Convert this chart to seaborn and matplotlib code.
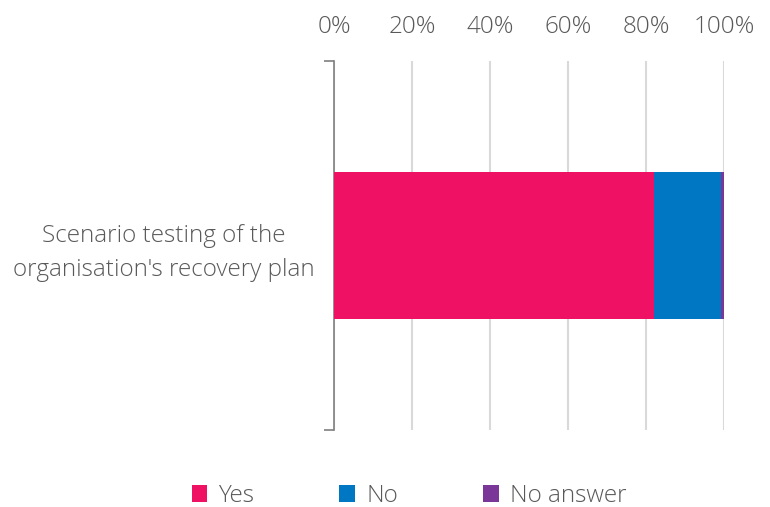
import matplotlib
matplotlib.use("Agg")
import matplotlib.pyplot as plt
import seaborn as sns
import pandas as pd
from matplotlib.patches import Patch

categories = ["Scenario testing of the\norganisation's recovery plan"]
yes = [82.0]
no = [17.2]
no_answer = [0.8]
series_names = ["Yes", "No", "No answer"]
colors = ["#EE1164", "#0077C2", "#7A3798"]
tick_vals = [0, 20, 40, 60, 80, 100]
tick_labels = ["0%", "20%", "40%", "60%", "80%", "100%"]

sns.set_theme(style="white")
plt.rcParams['font.family'] = ['Open Sans', 'DejaVu Sans']
text_color = "#595959"
FS = 17.5
FW = "light"

df = pd.DataFrame({"cat": categories, "Yes": yes, "No": no, "No answer": no_answer})
df["c_yes"] = df["Yes"]
df["c_no"] = df["Yes"] + df["No"]
df["c_all"] = df["Yes"] + df["No"] + df["No answer"]

fig = plt.figure(figsize=(7.7, 5.07), dpi=100)
ax = fig.add_axes([334/770, 1-430/507, (724-334)/770, (430-61)/507])

for col, c in zip(["c_all", "c_no", "c_yes"], [colors[2], colors[1], colors[0]]):
    sns.barplot(data=df, y="cat", x=col, color=c, orient="h", width=0.4,
                ax=ax, saturation=1, zorder=3, linewidth=0)

ax.set_xlim(0, 100)
ax.set_ylim(0.5, -0.5)
ax.set_xlabel("")
ax.set_ylabel("")
ax.xaxis.tick_top()
ax.set_xticks(tick_vals)
ax.set_xticklabels(tick_labels, fontsize=FS, color=text_color, fontweight=FW)
ax.tick_params(axis="x", length=0, pad=16)
ax.grid(axis="x", color="#D9D9D9", linewidth=1.5, zorder=0)
ax.set_axisbelow(True)

ax.set_yticks([0])
ax.set_yticklabels(categories, fontsize=FS, color=text_color, fontweight=FW,
                   multialignment="center", linespacing=1.5)
ax.tick_params(axis="y", which="major", length=0, pad=14)
ax.set_yticks([-0.5, 0.5], minor=True)
ax.tick_params(axis="y", which="minor", length=7, width=1.2, color="#7F7F7F", direction="out", left=True)

for s in ["top", "right", "bottom"]:
    ax.spines[s].set_visible(False)
ax.spines["left"].set_color("#7F7F7F")
ax.spines["left"].set_linewidth(1.2)

handles = [Patch(facecolor=c, edgecolor="none") for c in colors]
fig.legend(handles, series_names, loc="center", bbox_to_anchor=(0.531, 1-496/507), ncol=3,
           frameon=False, prop={"size": FS, "weight": FW}, labelcolor=text_color,
           handlelength=0.65, handleheight=0.65, handletextpad=0.45, columnspacing=3.5)

fig.savefig("out.png", dpi=100)
